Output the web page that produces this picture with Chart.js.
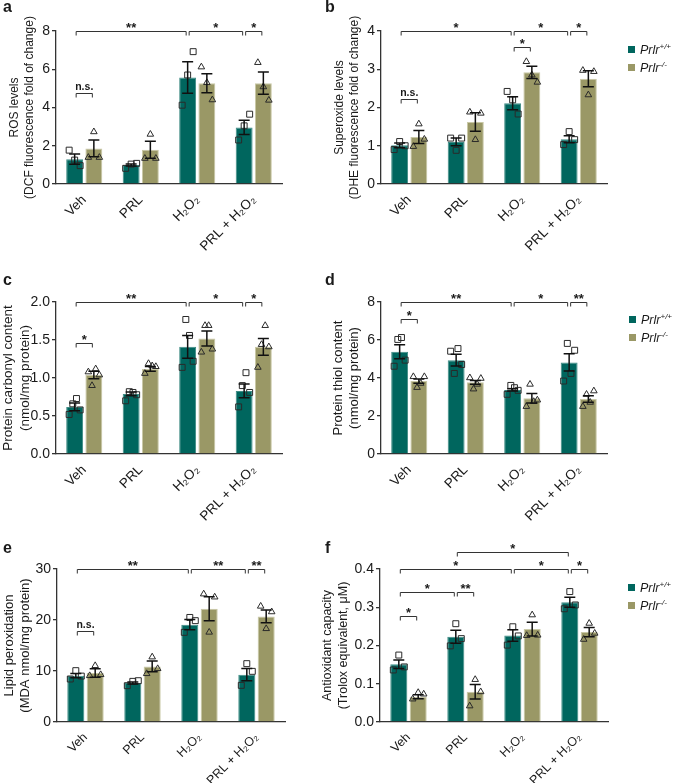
<!DOCTYPE html>
<html>
<head>
<meta charset="utf-8">
<script src="https://cdn.jsdelivr.net/npm/chart.js@4/dist/chart.umd.min.js"></script>
<style>
  body { margin: 0; background: #fff; font-family: "Liberation Sans", Arial, sans-serif; color: #1a1a1a; }
  #fig { position: relative; width: 673px; height: 783px; overflow: hidden; }
  canvas { position: absolute; }
  .tag { position: absolute; font-weight: bold; font-size: 16px; line-height: 16px; }
  .legend { position: absolute; font-size: 12.5px; line-height: 18px; white-space: nowrap; }
  .legend i { font-style: italic; }
  .legend sup { font-size: 8px; font-style: italic; line-height: 0; }
  .sw { display: inline-block; width: 7px; height: 7px; margin-right: 5px; vertical-align: 1px; }
</style>
</head>
<body>
<div id="fig">
  <canvas id="ca" width="320" height="268" style="left:0;top:0"></canvas>
  <canvas id="cb" width="353" height="268" style="left:320px;top:0"></canvas>
  <canvas id="cc" width="320" height="268" style="left:0;top:260px"></canvas>
  <canvas id="cd" width="353" height="268" style="left:320px;top:260px"></canvas>
  <canvas id="ce" width="320" height="263" style="left:0;top:520px"></canvas>
  <canvas id="cf" width="353" height="263" style="left:320px;top:520px"></canvas>

  <div class="tag" style="left:3px;top:-1px">a</div>
  <div class="tag" style="left:325px;top:-1px">b</div>
  <div class="tag" style="left:3px;top:272px">c</div>
  <div class="tag" style="left:325px;top:272px">d</div>
  <div class="tag" style="left:3px;top:540px">e</div>
  <div class="tag" style="left:325px;top:540px">f</div>

  <div class="legend" style="left:628px;top:41px">
    <div><span class="sw" style="background:#00665e"></span><i>Prlr</i><sup>+/+</sup></div>
    <div><span class="sw" style="background:#9a9866"></span><i>Prlr</i><sup>-/-</sup></div>
  </div>
  <div class="legend" style="left:629px;top:311px">
    <div><span class="sw" style="background:#00665e"></span><i>Prlr</i><sup>+/+</sup></div>
    <div><span class="sw" style="background:#9a9866"></span><i>Prlr</i><sup>-/-</sup></div>
  </div>
  <div class="legend" style="left:628px;top:579px">
    <div><span class="sw" style="background:#00665e"></span><i>Prlr</i><sup>+/+</sup></div>
    <div><span class="sw" style="background:#9a9866"></span><i>Prlr</i><sup>-/-</sup></div>
  </div>
</div>
<script>
// categories
const groups = ['Veh', 'PRL', 'H₂O₂', 'PRL + H₂O₂'];

// a: ROS levels
const rosWT = [1.30, 0.99, 5.57, 2.96];
const rosWTsem = [0.27, 0.05, 0.82, 0.37];
const rosKO = [1.86, 1.79, 5.27, 5.27];
const rosKOsem = [0.44, 0.44, 0.50, 0.58];
const rosWTpts = [[1.77, 1.25, 0.96], [0.82, 1.04, 1.08], [4.12, 5.70, 6.92], [2.30, 3.04, 3.65]];
const rosKOpts = [[1.39, 2.73, 1.39], [1.34, 2.60, 1.34], [6.12, 5.30, 4.40], [6.35, 5.08, 4.38]];

// b: superoxide levels
const supWT = [1.01, 1.10, 2.11, 1.17];
const supWTsem = [0.06, 0.10, 0.17, 0.09];
const supKO = [1.23, 1.62, 2.92, 2.75];
const supKOsem = [0.17, 0.24, 0.16, 0.21];
const supWTpts = [[0.90, 1.11, 1.00], [1.20, 0.88, 1.20], [2.42, 2.20, 1.83], [1.03, 1.37, 1.16]];
const supKOpts = [[0.98, 1.57, 1.17], [1.88, 1.16, 1.85], [3.20, 2.85, 2.66], [2.97, 2.33, 2.94]];

// c: protein carbonyl
const carWT = [0.62, 0.79, 1.41, 0.83];
const carWTsem = [0.05, 0.025, 0.15, 0.09];
const carKO = [1.04, 1.12, 1.52, 1.41];
const carKOsem = [0.05, 0.03, 0.10, 0.11];
const carWTpts = [[0.52, 0.66, 0.73, 0.58], [0.70, 0.82, 0.81, 0.78], [1.14, 1.77, 1.56, 1.22], [0.62, 0.90, 1.07, 0.81]];
const carKOpts = [[1.08, 0.90, 1.12, 1.04], [1.06, 1.19, 1.16, 1.15], [1.34, 1.69, 1.69, 1.38], [1.14, 1.44, 1.69, 1.41]];

// d: protein thiol
const thiWT = [5.38, 4.94, 3.37, 4.82];
const thiWTsem = [0.37, 0.31, 0.06, 0.45];
const thiKO = [3.84, 3.77, 2.93, 2.90];
const thiKOsem = [0.11, 0.10, 0.25, 0.17];
const thiWTpts = [[4.62, 6.03, 6.13, 4.94], [5.41, 4.24, 5.55, 4.71], [3.14, 3.61, 3.49, 3.35], [3.84, 5.82, 4.24, 5.46]];
const thiKOpts = [[4.07, 3.50, 3.72, 4.07], [4.01, 3.42, 3.67, 3.98], [2.50, 3.67, 2.76, 2.84], [2.50, 3.14, 2.72, 3.32]];

// e: lipid peroxidation
const mdaWT = [9.08, 7.65, 19.08, 9.28];
const mdaWTsem = [0.42, 0.20, 1.00, 1.20];
const mdaKO = [9.60, 10.9, 22.2, 20.7];
const mdaKOsem = [0.82, 1.05, 2.35, 1.25];
const mdaWTpts = [[8.43, 10.07, 9.0], [7.12, 7.97, 8.10], [17.58, 20.5, 19.87], [7.19, 11.44, 9.93]];
const mdaKOpts = [[9.08, 11.05, 9.28], [9.48, 12.75, 10.46], [25.1, 17.6, 24.5], [22.7, 18.3, 21.6]];

// f: antioxidant capacity
const antWT = [0.151, 0.223, 0.226, 0.313];
const antWTsem = [0.011, 0.017, 0.015, 0.013];
const antKO = [0.066, 0.079, 0.243, 0.235];
const antKOsem = [0.005, 0.019, 0.018, 0.012];
const antWTpts = [[0.136, 0.175, 0.144], [0.199, 0.257, 0.218], [0.201, 0.249, 0.225], [0.296, 0.341, 0.306]];
const antKOpts = [[0.060, 0.077, 0.073], [0.042, 0.111, 0.079], [0.226, 0.280, 0.227], [0.216, 0.258, 0.232]];

// significance brackets: [group1, series1, group2, series2, y, label]
const rosSig = [[0, 0, 2, 0, 8, '**'], [2, 0, 3, 0, 8, '*'], [3, 0, 3, 1, 8, '*'], [0, 0, 0, 1, 4.75, 'n.s.']];
const supSig = [[0, 0, 2, 0, 4, '*'], [2, 0, 3, 0, 4, '*'], [3, 0, 3, 1, 4, '*'], [2, 0, 2, 1, 3.57, '*'], [0, 0, 0, 1, 2.22, 'n.s.']];
const carSig = [[0, 0, 2, 0, 2, '**'], [2, 0, 3, 0, 2, '*'], [3, 0, 3, 1, 2, '*'], [0, 0, 0, 1, 1.46, '*']];
const thiSig = [[0, 0, 2, 0, 8, '**'], [2, 0, 3, 0, 8, '*'], [3, 0, 3, 1, 8, '**'], [0, 0, 0, 1, 7.08, '*']];
const mdaSig = [[0, 0, 2, 0, 30, '**'], [2, 0, 3, 0, 30, '**'], [3, 0, 3, 1, 30, '**'], [0, 0, 0, 1, 17.8, 'n.s.']];
const antSig = [[1, 0, 3, 0, 0.445, '*'], [0, 0, 2, 0, 0.4, '*'], [2, 0, 3, 0, 0.4, '*'], [3, 0, 3, 1, 0.4, '*'],
                [0, 0, 1, 0, 0.34, '*'], [1, 0, 1, 1, 0.34, '**'], [0, 0, 0, 1, 0.278, '*']];

const teal = '#00665e', tealEdge = '#3f8c85';
const olive = '#9a9866', oliveEdge = '#c9c8a6';
const FONT = '"Liberation Sans", Arial, sans-serif';

Chart.defaults.font.family = FONT;
Chart.defaults.color = '#1a1a1a';

// replicate points, then SEM bars, on top of the bars
const marks = {
  id: 'marks',
  afterDatasetsDraw(chart) {
    const ctx = chart.ctx, y = chart.scales.y;
    chart.data.datasets.forEach((ds, i) => {
      const meta = chart.getDatasetMeta(i);
      ds.pts.forEach((arr, g) => {
        const bar = meta.data[g], n = arr.length, step = 11 / (n - 1);
        arr.forEach((v, k) => {
          ctx.save();
          ctx.fillStyle = 'rgba(0,0,0,0)';
          ctx.strokeStyle = '#2a2a2a';
          ctx.lineWidth = 1;
          Chart.helpers.drawPoint(ctx, { pointStyle: ds.mark, radius: ds.markR, rotation: 0, borderWidth: 1 },
            bar.x + (k - (n - 1) / 2) * step, y.getPixelForValue(v));
          ctx.restore();
        });
      });
    });
    chart.data.datasets.forEach((ds, i) => {
      chart.getDatasetMeta(i).data.forEach((bar, g) => {
        const top = y.getPixelForValue(ds.data[g] + ds.sem[g]);
        const bot = y.getPixelForValue(ds.data[g] - ds.sem[g]);
        ctx.save();
        ctx.strokeStyle = '#111';
        ctx.lineWidth = 1.5;
        ctx.beginPath();
        ctx.moveTo(bar.x, top); ctx.lineTo(bar.x, bot);
        ctx.moveTo(bar.x - 5.5, top); ctx.lineTo(bar.x + 5.5, top);
        ctx.moveTo(bar.x - 5.5, bot); ctx.lineTo(bar.x + 5.5, bot);
        ctx.stroke();
        ctx.restore();
      });
    });
  }
};

const sigPlugin = {
  id: 'sig',
  afterDraw(chart, args, opts) {
    const ctx = chart.ctx, y = chart.scales.y;
    (opts.list || []).forEach(([g1, s1, g2, s2, v, txt]) => {
      const x1 = chart.getDatasetMeta(s1).data[g1].x + 1.5;
      const x2 = chart.getDatasetMeta(s2).data[g2].x - 1.5;
      const yp = Math.round(y.getPixelForValue(v)) + 0.5;
      ctx.save();
      ctx.strokeStyle = '#333';
      ctx.lineWidth = 1;
      ctx.beginPath();
      ctx.moveTo(x1, yp + 4); ctx.lineTo(x1, yp); ctx.lineTo(x2, yp); ctx.lineTo(x2, yp + 4);
      ctx.stroke();
      ctx.fillStyle = '#1a1a1a';
      ctx.textAlign = 'center';
      ctx.textBaseline = 'bottom';
      const ns = txt === 'n.s.';
      ctx.font = (ns ? 'bold 10.5px ' : 'bold 13px ') + FONT;
      ctx.fillText(txt, (x1 + x2) / 2, ns ? yp - 1 : yp + 3);
      ctx.restore();
    });
  }
};

function panel(id, c) {
  new Chart(document.getElementById(id), {
    type: 'bar',
    data: {
      labels: groups,
      datasets: [
        { label: 'Prlr+/+', data: c.wt, sem: c.wtSem, pts: c.wtPts, mark: 'rect', markR: 4.2,
          backgroundColor: teal, borderColor: tealEdge, borderWidth: 1 },
        { label: 'Prlr-/-', data: c.ko, sem: c.koSem, pts: c.koPts, mark: 'triangle', markR: 3.8,
          backgroundColor: olive, borderColor: oliveEdge, borderWidth: 1 }
      ]
    },
    options: {
      responsive: false,
      animation: false,
      categoryPercentage: 0.68,
      barPercentage: 0.88,
      layout: { padding: { top: c.top, right: c.right, left: 0, bottom: 0 } },
      plugins: { legend: { display: false }, tooltip: { enabled: false }, sig: { list: c.sig } },
      scales: {
        x: {
          offset: true,
          grid: { display: false },
          border: { color: '#333', width: 1.3 },
          ticks: { minRotation: 45, maxRotation: 45, font: { size: c.xfont }, padding: 0 },
          afterFit: s => { s.height = c.xh; }
        },
        y: {
          min: 0, max: c.max,
          ticks: { stepSize: c.step, font: { size: 14 }, padding: 2, callback: c.fmt },
          grid: { drawOnChartArea: false, drawTicks: true, tickLength: 4, color: '#333', lineWidth: 1.3 },
          border: { color: '#333', width: 1.3 },
          title: { display: true, text: c.title, font: { size: c.tsize, lineHeight: 1.25 }, padding: { top: c.tpad, bottom: 0 } },
          afterFit: s => { s.width = c.yw; }
        }
      }
    },
    plugins: [marks, sigPlugin]
  });
}

const int = v => v;
const one = v => v.toFixed(1);

panel('ca', { wt: rosWT, wtSem: rosWTsem, ko: rosKO, koSem: rosKOsem, wtPts: rosWTpts, koPts: rosKOpts, sig: rosSig,
  max: 8, step: 2, fmt: int, title: ['ROS levels', '(DCF fluorescence fold of change)'], tsize: 12, xfont: 13.5,
  top: 31, right: 38, xh: 84, yw: 56, tpad: 7 });
panel('cb', { wt: supWT, wtSem: supWTsem, ko: supKO, koSem: supKOsem, wtPts: supWTpts, koPts: supKOpts, sig: supSig,
  max: 4, step: 1, fmt: int, title: ['Superoxide levels', '(DHE fluorescence fold of change)'], tsize: 12, xfont: 13.5,
  top: 31, right: 66, xh: 84, yw: 61, tpad: 12 });
panel('cc', { wt: carWT, wtSem: carWTsem, ko: carKO, koSem: carKOsem, wtPts: carWTpts, koPts: carKOpts, sig: carSig,
  max: 2, step: 0.5, fmt: one, title: ['Protein carbonyl content', '(nmol/mg protein)'], tsize: 13.5, xfont: 13.5,
  top: 42, right: 38, xh: 74, yw: 56, tpad: 0 });
panel('cd', { wt: thiWT, wtSem: thiWTsem, ko: thiKO, koSem: thiKOsem, wtPts: thiWTpts, koPts: thiKOpts, sig: thiSig,
  max: 8, step: 2, fmt: int, title: ['Protein thiol content', '(nmol/mg protein)'], tsize: 13, xfont: 13.5,
  top: 42, right: 66, xh: 74, yw: 61, tpad: 10 });
panel('ce', { wt: mdaWT, wtSem: mdaWTsem, ko: mdaKO, koSem: mdaKOsem, wtPts: mdaWTpts, koPts: mdaKOpts, sig: mdaSig,
  max: 30, step: 10, fmt: int, title: ['Lipid peroxidation', '(MDA nmol/mg protein)'], tsize: 13, xfont: 12.5,
  top: 49, right: 35, xh: 61, yw: 57, tpad: 1 });
panel('cf', { wt: antWT, wtSem: antWTsem, ko: antKO, koSem: antKOsem, wtPts: antWTpts, koPts: antKOpts, sig: antSig,
  max: 0.4, step: 0.1, fmt: one, title: ['Antioxidant capacity', '(Trolox equivalent, μM)'], tsize: 12.5, xfont: 12.5,
  top: 49, right: 65, xh: 61, yw: 60, tpad: 0 });
</script>
</body>
</html>
